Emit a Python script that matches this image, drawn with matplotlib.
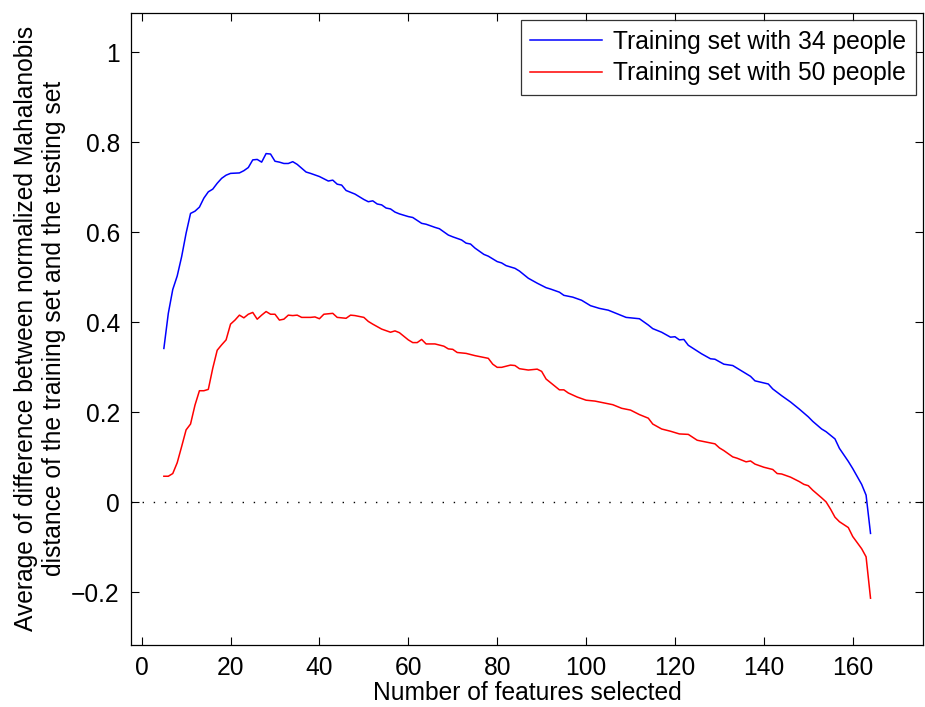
import matplotlib
matplotlib.use("Agg")
import matplotlib.pyplot as plt

plt.rcParams["font.family"] = ["Liberation Sans", "DejaVu Sans"]

# values
blue_x = [5, 6, 7, 8, 9, 10, 11, 12, 13, 14, 15, 16, 17, 18, 19, 20, 22, 23, 24, 25,
          26, 27, 28, 29, 30, 31, 32, 33, 34, 35, 37, 38, 40, 42, 43, 44, 45, 46, 48, 50,
          51, 52, 53, 54, 55, 56, 57, 58, 60, 61, 63, 64, 66, 67, 69, 70, 72, 73, 74, 75,
          77, 78, 80, 81, 82, 84, 85, 87, 89, 91, 92, 94, 95, 97, 99, 101, 103, 105, 107, 109,
          112, 114, 115, 117, 119, 120, 121, 122, 123, 126, 128, 129, 131, 133, 135, 137, 138, 141, 142, 144,
          146, 148, 150, 151, 153, 154, 156, 157, 159, 160, 162, 163, 164]
blue_y = [0.342, 0.420, 0.473, 0.503, 0.546, 0.598, 0.642, 0.647, 0.656, 0.676, 0.690, 0.696, 0.709, 0.720, 0.727, 0.731, 0.732, 0.737, 0.744, 0.761,
          0.762, 0.756, 0.775, 0.774, 0.758, 0.756, 0.753, 0.753, 0.757, 0.751, 0.734, 0.731, 0.724, 0.714, 0.716, 0.707, 0.705, 0.693, 0.685, 0.673,
          0.668, 0.670, 0.663, 0.661, 0.654, 0.652, 0.645, 0.641, 0.635, 0.633, 0.620, 0.618, 0.611, 0.608, 0.594, 0.590, 0.583, 0.576, 0.574, 0.565,
          0.551, 0.547, 0.535, 0.532, 0.526, 0.520, 0.514, 0.498, 0.487, 0.477, 0.474, 0.467, 0.460, 0.456, 0.449, 0.437, 0.431, 0.427, 0.419, 0.411,
          0.408, 0.394, 0.386, 0.378, 0.367, 0.368, 0.361, 0.362, 0.349, 0.330, 0.319, 0.318, 0.307, 0.304, 0.292, 0.280, 0.270, 0.263, 0.252, 0.237,
          0.223, 0.207, 0.190, 0.180, 0.163, 0.157, 0.141, 0.120, 0.091, 0.075, 0.040, 0.016, -0.069]

red_x = [5, 6, 7, 8, 9, 10, 11, 12, 13, 14, 15, 16, 17, 18, 19, 20, 21, 22, 23, 24,
         25, 26, 27, 28, 29, 30, 31, 32, 33, 34, 35, 36, 38, 39, 40, 41, 43, 44, 46, 47,
         48, 50, 51, 52, 54, 56, 57, 58, 60, 61, 62, 63, 64, 66, 68, 69, 70, 71, 73, 75,
         76, 78, 79, 80, 81, 83, 84, 85, 87, 89, 90, 91, 92, 94, 95, 96, 98, 100, 102, 104,
         106, 108, 110, 112, 114, 115, 117, 119, 121, 123, 125, 127, 129, 130, 131, 133, 134, 136, 137, 138,
         140, 142, 143, 144, 146, 148, 149, 150, 151, 153, 154, 155, 156, 157, 159, 160, 162, 163, 164]
red_y = [0.058, 0.058, 0.064, 0.088, 0.124, 0.161, 0.174, 0.216, 0.248, 0.248, 0.251, 0.298, 0.338, 0.350, 0.361, 0.396, 0.405, 0.416, 0.410, 0.418,
         0.422, 0.407, 0.416, 0.424, 0.418, 0.418, 0.405, 0.407, 0.416, 0.415, 0.416, 0.411, 0.411, 0.412, 0.408, 0.418, 0.420, 0.411, 0.409, 0.416,
         0.415, 0.411, 0.402, 0.396, 0.385, 0.378, 0.381, 0.377, 0.361, 0.355, 0.355, 0.362, 0.352, 0.352, 0.347, 0.341, 0.340, 0.333, 0.331, 0.326,
         0.324, 0.320, 0.307, 0.300, 0.300, 0.305, 0.304, 0.297, 0.294, 0.296, 0.291, 0.274, 0.266, 0.250, 0.250, 0.243, 0.234, 0.227, 0.225, 0.221,
         0.217, 0.209, 0.205, 0.195, 0.187, 0.174, 0.163, 0.158, 0.152, 0.151, 0.138, 0.134, 0.130, 0.121, 0.115, 0.101, 0.098, 0.090, 0.092, 0.085,
         0.078, 0.073, 0.064, 0.063, 0.056, 0.046, 0.040, 0.037, 0.027, 0.010, 0.001, -0.015, -0.033, -0.043, -0.056, -0.076, -0.103, -0.121, -0.213]

xticks = [0, 20, 40, 60, 80, 100, 120, 140, 160]
yticks = [-0.2, 0, 0.2, 0.4, 0.6, 0.8, 1]
ytick_labels = ["\u22120.2", "0", "0.2", "0.4", "0.6", "0.8", "1"]

FS = 17.7

fig = plt.figure(figsize=(9.25, 7.07), dpi=100)
ax = fig.add_axes([0.1416, 0.0877, 0.8562, 0.8943])

ax.plot(blue_x, blue_y, color="#0000ff", lw=1.1, label="Training set with 34 people")
ax.plot(red_x, red_y, color="#ff0000", lw=1.1, label="Training set with 50 people")
ax.axhline(0, color="k", lw=1.0, linestyle=(0, (1, 7)))

ax.set_xlim(-2.4, 175.8)
ax.set_ylim(-0.317, 1.088)
ax.set_xticks(xticks)
ax.set_yticks(yticks)
ax.set_yticklabels(ytick_labels)
ax.tick_params(direction="in", length=6, width=0.8, labelsize=FS,
               top=True, right=True, pad=8)
for s in ax.spines.values():
    s.set_linewidth(0.9)

ax.set_xlabel("Number of features selected", fontsize=FS, labelpad=1)
ax.set_ylabel("Average of difference between normalized Mahalanobis\n"
              "distance of the training set and the testing set", fontsize=FS, labelpad=4)

leg = ax.legend(loc="upper right", fontsize=FS, frameon=True, fancybox=False,
                edgecolor="k", handlelength=2.9, borderaxespad=0.3,
                borderpad=0.4, labelspacing=0.3, handletextpad=0.45)
leg.get_frame().set_linewidth(0.9)

fig.savefig("out.png", dpi=100)
